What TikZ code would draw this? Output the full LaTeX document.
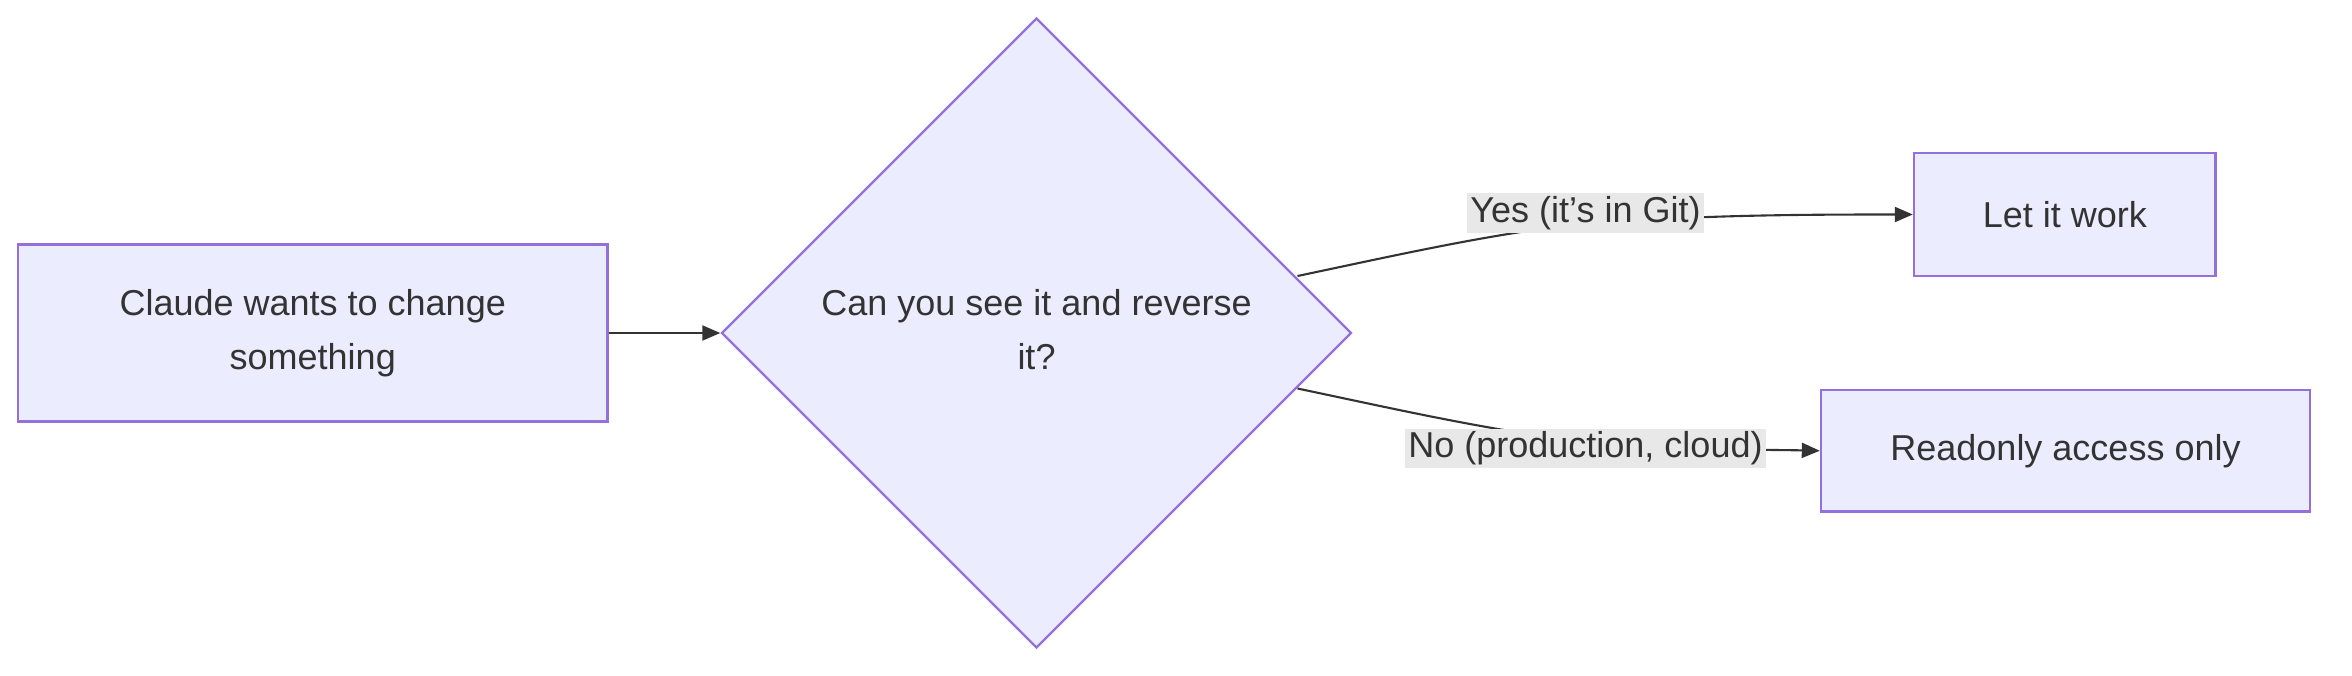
\documentclass[tikz,border=0pt]{standalone}
\usepackage{fontspec}
\setmainfont{Liberation Sans}
\usetikzlibrary{shapes.geometric,arrows.meta}
\definecolor{nfill}{HTML}{ECECFF}
\definecolor{nline}{HTML}{9370DB}
\definecolor{eline}{HTML}{333333}
\definecolor{lbg}{HTML}{E8E8E8}
\begin{document}
\begin{tikzpicture}[x=0.5pt,y=-0.5pt,
  box/.style={draw=nline,fill=nfill,line width=0.8pt,inner sep=0pt,align=center,font=\fontsize{12}{18}\selectfont,text=eline},
  elab/.style={fill=lbg,inner sep=1pt,font=\fontsize{12}{14}\selectfont,text=eline},
  conn/.style={draw=eline,line width=0.7pt,-{Triangle[length=6pt,width=5pt]}}]
\useasboundingbox (0,0) rectangle (1568,450);
\node[box,minimum width=196.5pt,minimum height=59pt] (a) at (208.5,222) {Claude wants to change\\something};
\node[box,diamond,aspect=1,minimum width=210pt,minimum height=210pt] (d) at (691,222) {};
\node[font=\fontsize{12}{18}\selectfont,text=eline,align=center] at (691,220) {Can you see it and reverse\\it?};
\node[box,minimum width=100.5pt,minimum height=41pt] (b) at (1376.5,143) {Let it work};
\node[box,minimum width=163pt,minimum height=40.5pt] (c) at (1377,300.5) {Readonly access only};
\coordinate (y0) at (865,184);
\coordinate (n0) at (865,259);
\draw[conn] (a.east) -- (d.west);
\draw[conn] (y0) .. controls (960,164) and (1040,145) .. (1130,145) .. controls (1180,143) and (1230,143) .. (b.west);
\draw[conn] (n0) .. controls (960,279) and (1040,298) .. (1130,299) .. controls (1170,300) and (1190,300) .. (c.west);
\node[elab] (ly) at (1057,142) {Yes (it's in Git)};
\node[elab] (ln) at (1057,299) {No (production, cloud)};
\end{tikzpicture}
\end{document}
